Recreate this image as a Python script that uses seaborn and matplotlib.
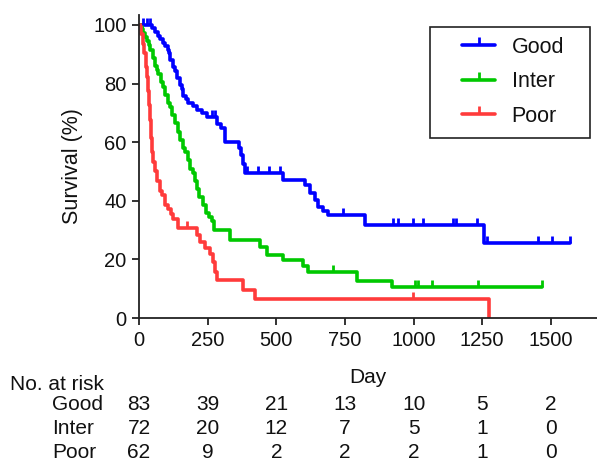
import matplotlib
matplotlib.use("Agg")
import numpy as np
import pandas as pd
import seaborn as sns
import matplotlib.pyplot as plt
from matplotlib.lines import Line2D
from matplotlib.patches import Rectangle
from matplotlib.transforms import blended_transform_factory

# ---------------- data ----------------
groups = ["Good", "Inter", "Poor"]
colors = ["#0000ff", "#00c800", "#ff3b3b"]

good_day = [0, 47, 58, 68, 77, 86, 95, 106, 110, 113, 124, 131, 138, 149, 155, 160, 170, 178,
            197, 211, 230, 248, 284, 300, 313, 365, 372, 379, 386, 525, 605, 623, 641,
            652, 670, 689, 823, 1257, 1570]
good_surv = [100, 98.8, 97.6, 96.4, 95.2, 94.0, 92.8, 91.6, 90.4, 87.9, 85.5, 84.3, 81.9,
             79.5, 78.3, 75.9, 74.7, 73.5, 72.3, 71.1, 69.9, 68.7, 66.2, 64.9, 60.0, 58.0, 55.6, 52.5,
             49.5, 47.0, 45.4, 42.7, 40.3, 38.0, 36.6, 35.0, 31.7, 25.6, 25.6]
good_cens = [15, 30, 40, 265, 277, 393, 434, 474, 514, 743, 925, 943, 998, 1035, 1144, 1155,
             1231, 1268, 1453, 1505, 1570]

inter_day = [0, 10, 15, 22, 30, 35, 40, 50, 58, 65, 70, 80, 88, 95, 106, 113, 120, 131, 142, 150,
             160, 168, 178, 186, 195, 204, 211, 220, 233, 245, 255, 266, 272, 331, 441, 466,
             525, 598, 616, 794, 920, 1469]
inter_surv = [100, 98.6, 97.2, 95.8, 94.4, 93.0, 91.6, 88.8, 86.0, 84.6, 83.2, 80.4, 79.0, 76.2,
              73.4, 72.0, 69.2, 66.4, 63.6, 60.8, 58.0, 56.6, 53.8, 51.0, 49.6, 46.8, 44.0, 41.2,
              38.4, 36.0, 34.6, 33.2, 30.0, 26.6, 24.3, 21.5, 19.8, 17.7, 15.8, 12.7, 10.5, 10.5]
inter_cens = [708, 1005, 1017, 1067, 1235, 1469]

poor_day = [0, 8, 15, 20, 25, 29, 33, 36, 40, 44, 48, 51, 58, 66, 75, 84, 95, 106, 115, 124,
            142, 211, 222, 240, 259, 270, 277, 284, 379, 423, 1275]
poor_surv = [100, 96.8, 93.5, 90.3, 85.5, 82.3, 77.4, 72.6, 67.7, 61.3, 56.5, 53.2, 50.0, 46.8,
             43.5, 41.9, 38.7, 37.1, 35.5, 33.9, 30.6, 28.3, 26.0, 24.0, 22.0, 19.0, 15.7, 12.9,
             9.6, 6.4, 0.0]
poor_cens = [175, 997]

risk_days = [0, 250, 500, 750, 1000, 1250, 1500]
risk_good = [83, 39, 21, 13, 10, 5, 2]
risk_inter = [72, 20, 12, 7, 5, 1, 0]
risk_poor = [62, 9, 2, 2, 2, 1, 0]

x_ticks = [0, 250, 500, 750, 1000, 1250, 1500]
y_ticks = [0, 20, 40, 60, 80, 100]

# ---------------- figure ----------------
sns.set_theme(style="ticks")
plt.rcParams["font.family"] = ["Liberation Sans", "DejaVu Sans"]

W, H = 597, 462
fig = plt.figure(figsize=(W / 100, H / 100), dpi=100)
ax_l, ax_r, ax_b, ax_t = 139, 597, 318, 15
ax = fig.add_axes([ax_l / W, 1 - ax_b / H, (ax_r - ax_l) / W, (ax_b - ax_t) / H])

curves = {"Good": (good_day, good_surv, good_cens),
          "Inter": (inter_day, inter_surv, inter_cens),
          "Poor": (poor_day, poor_surv, poor_cens)}

frames = []
for g in groups:
    d, s, _ = curves[g]
    frames.append(pd.DataFrame({"group": g, "day": d, "survival": s}))
df = pd.concat(frames, ignore_index=True)

sns.lineplot(data=df, x="day", y="survival", hue="group", hue_order=groups,
             palette=colors, estimator=None, sort=False, drawstyle="steps-post",
             linewidth=2.6, legend=False, ax=ax)

for g, c in zip(groups, colors):
    d, s, cens = curves[g]
    d = np.asarray(d, float)
    s = np.asarray(s, float)
    cens = np.asarray(cens, float)
    idx = np.searchsorted(d, cens, side="right") - 1
    ax.plot(cens, s[idx], ls="none", marker=2, ms=5, mew=2.0, color=c)

ax.set_xlim(0, 1668)
ax.set_ylim(0, 103.4)
ax.set_xticks(x_ticks)
ax.set_yticks(y_ticks)
ax.tick_params(axis="both", labelsize=14.5, length=5, width=1.3, color="#222222",
               labelcolor="#111111", pad=4)
for sp in ["left", "bottom"]:
    ax.spines[sp].set_linewidth(1.3)
    ax.spines[sp].set_color("#222222")
sns.despine(ax=ax)

ax.set_xlabel("Day", fontsize=15, color="#111111")
ax.xaxis.set_label_coords(0.5, -0.165)
ax.set_ylabel("Survival (%)", fontsize=15.5, color="#111111")
ax.yaxis.set_label_coords(-0.122, 0.5)

# legend
handles = [Line2D([0], [0], color=c, lw=2.6, marker=2, ms=6, mew=2.0) for c in colors]
leg = fig.legend(handles, groups, loc="upper left", bbox_to_anchor=(462 / W, 1 - 37 / H),
                 frameon=False, fontsize=15.5, handlelength=1.55, handletextpad=0.75,
                 labelspacing=0.62, borderpad=0, borderaxespad=0, numpoints=1)
for t in leg.get_texts():
    t.set_color("#111111")
fig.add_artist(Rectangle((430 / W, 1 - 138 / H), 160 / W, 111 / H, transform=fig.transFigure,
                         fill=False, edgecolor="#222222", linewidth=1.2))

# number at risk table
trans = blended_transform_factory(ax.transData, fig.transFigure)
fig.text(10 / W, 1 - 384 / H, "No. at risk", fontsize=15, va="center", ha="left", color="#111111")
rows = [("Good", risk_good, 405), ("Inter", risk_inter, 429), ("Poor", risk_poor, 452)]
for name, vals, ypx in rows:
    fig.text(52 / W, 1 - ypx / H, name, fontsize=15, va="center", ha="left", color="#111111")
    for xd, v in zip(risk_days, vals):
        ax.text(xd, 1 - ypx / H, str(v), transform=trans, fontsize=15, va="center",
                ha="center", color="#111111")

fig.savefig("out.png", dpi=100)
